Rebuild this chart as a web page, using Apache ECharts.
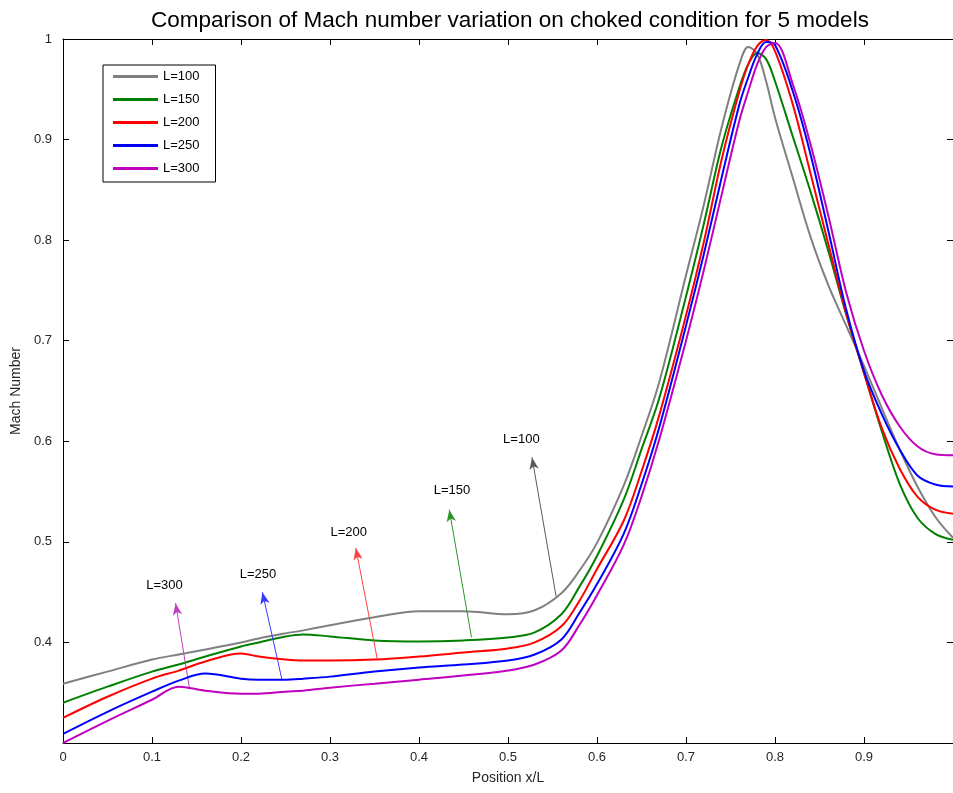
<!DOCTYPE html>
<html>
<head>
<meta charset="utf-8">
<script src="https://cdn.jsdelivr.net/npm/echarts@6/dist/echarts.min.js"></script>
<style>
  html, body { margin: 0; padding: 0; background: #fff; }
  #chart { width: 953px; height: 793px; }
</style>
</head>
<body>
<div id="chart"></div>
<script>
// Position along the duct (x/L) shared by all five models
const positions = [0, 0.05, 0.1, 0.13, 0.16, 0.2, 0.22, 0.25, 0.27, 0.3, 0.35, 0.4, 0.45, 0.5, 0.53, 0.56, 0.58,
  0.6, 0.63, 0.65, 0.67, 0.7, 0.72, 0.74, 0.76, 0.77, 0.78, 0.79, 0.8, 0.82, 0.84, 0.86, 0.88,
  0.9, 0.92, 0.94, 0.96, 0.98, 1.0];

// Mach number per model
const machL100 = [0.359, 0.371, 0.383, 0.388, 0.393, 0.400, 0.404, 0.409, 0.412, 0.417, 0.425, 0.431, 0.431, 0.428, 0.432, 0.449, 0.471,
  0.499, 0.556, 0.605, 0.659, 0.765, 0.835, 0.912, 0.975, 0.992, 0.985, 0.958, 0.922, 0.862, 0.803, 0.755, 0.715,
  0.675, 0.633, 0.592, 0.555, 0.525, 0.504];
const machL150 = [0.340, 0.356, 0.371, 0.378, 0.386, 0.396, 0.400, 0.406, 0.408, 0.406, 0.402, 0.401, 0.402, 0.405, 0.410, 0.428, 0.455,
  0.486, 0.542, 0.592, 0.643, 0.744, 0.816, 0.893, 0.952, 0.975, 0.986, 0.980, 0.958, 0.903, 0.848, 0.789, 0.726,
  0.668, 0.610, 0.558, 0.524, 0.508, 0.502];
const machL200 = [0.325, 0.346, 0.364, 0.372, 0.381, 0.389, 0.386, 0.383, 0.382, 0.382, 0.383, 0.386, 0.390, 0.394, 0.400, 0.416, 0.441,
  0.473, 0.521, 0.570, 0.626, 0.725, 0.798, 0.880, 0.948, 0.975, 0.993, 0.999, 0.988, 0.935, 0.866, 0.796, 0.727,
  0.668, 0.613, 0.573, 0.545, 0.532, 0.528];
const machL250 = [0.309, 0.331, 0.351, 0.362, 0.369, 0.364, 0.363, 0.363, 0.364, 0.366, 0.371, 0.375, 0.378, 0.382, 0.388, 0.403, 0.429,
  0.458, 0.508, 0.557, 0.614, 0.715, 0.786, 0.862, 0.935, 0.962, 0.985, 0.997, 0.994, 0.948, 0.885, 0.809, 0.731,
  0.670, 0.627, 0.592, 0.566, 0.557, 0.555];
const machL300 = [0.300, 0.322, 0.343, 0.356, 0.352, 0.349, 0.349, 0.351, 0.352, 0.355, 0.359, 0.363, 0.367, 0.372, 0.378, 0.392, 0.417,
  0.447, 0.497, 0.545, 0.602, 0.700, 0.770, 0.845, 0.919, 0.948, 0.975, 0.992, 0.996, 0.955, 0.895, 0.824, 0.748,
  0.690, 0.646, 0.615, 0.595, 0.587, 0.586];

const modelNames = ['L=100', 'L=150', 'L=200', 'L=250', 'L=300'];
const modelValues = [machL100, machL150, machL200, machL250, machL300];

// Callout arrows: tail on the curve, head near the label (data coordinates)
const arrowTails = [[0.554, 0.446], [0.459, 0.405], [0.353, 0.384], [0.246, 0.363], [0.142, 0.355]];
const arrowHeads = [[0.527, 0.584], [0.434, 0.532], [0.329, 0.494], [0.224, 0.450], [0.1265, 0.439]];
const calloutSpots = [[0.515, 0.602], [0.437, 0.551], [0.321, 0.509], [0.219, 0.468], [0.114, 0.457]];

const xTicks = [0, 0.1, 0.2, 0.3, 0.4, 0.5, 0.6, 0.7, 0.8, 0.9];
const yTicks = [0.4, 0.5, 0.6, 0.7, 0.8, 0.9, 1];

const lineColors = ['#808080', '#008000', '#ff0000', '#0000ff', '#bf00bf'];
const arrowColors = ['#5a5a5a', '#2a962a', '#ff4040', '#3a3aff', '#c040c0'];

const FONT = '"Liberation Sans", Arial, sans-serif';

const chart = echarts.init(document.getElementById('chart'), null, { renderer: 'canvas' });

const series = modelNames.map((name, i) => ({
  name: name,
  type: 'line',
  xAxisIndex: 0,
  yAxisIndex: 0,
  data: positions.map((x, k) => [x, modelValues[i][k]]),
  smooth: 0.35,
  showSymbol: false,
  symbol: 'none',
  lineStyle: { color: lineColors[i], width: 2 },
  itemStyle: { color: lineColors[i] },
  emphasis: { disabled: true },
  z: 3 + i,
  markLine: {
    silent: true,
    symbol: ['none', 'arrow'],
    symbolSize: [7, 12],
    lineStyle: { color: arrowColors[i], width: 1, type: 'solid' },
    label: { show: false },
    emphasis: { disabled: true },
    animation: false,
    data: [[{ coord: arrowTails[i] }, { coord: arrowHeads[i] }]]
  },
  markPoint: {
    silent: true,
    symbol: 'circle',
    symbolSize: 0,
    animation: false,
    label: {
      show: true,
      position: 'inside',
      formatter: name,
      color: '#000',
      fontFamily: FONT,
      fontSize: 13
    },
    data: [{ coord: calloutSpots[i] }]
  }
}));

const gridLeft = 63, gridTop = 39, gridWidth = 893, gridHeight = 704;

chart.setOption({
  animation: false,
  backgroundColor: '#fff',
  title: {
    text: 'Comparison of Mach number variation on choked condition for 5 models',
    left: 146,
    top: 4,
    textStyle: { fontFamily: FONT, fontSize: 22.5, fontWeight: 'normal', color: '#000' }
  },
  legend: {
    orient: 'vertical',
    left: 103,
    top: 65,
    padding: [4, 16, 6, 10],
    itemGap: 8,
    itemWidth: 45,
    itemHeight: 3,
    icon: 'rect',
    borderColor: '#000',
    borderWidth: 1,
    backgroundColor: '#fff',
    selectedMode: false,
    data: modelNames,
    textStyle: { fontFamily: FONT, fontSize: 13, color: '#000', lineHeight: 15 }
  },
  grid: { left: gridLeft, top: gridTop, width: gridWidth, height: gridHeight },
  xAxis: [
    {
      type: 'value', min: 0, max: 1, interval: 0.1,
      position: 'bottom',
      name: 'Position x/L',
      nameLocation: 'middle',
      nameGap: 28,
      nameTextStyle: { fontFamily: FONT, fontSize: 14, color: '#262626' },
      axisLine: { show: true, onZero: false, lineStyle: { color: '#000', width: 1 } },
      axisTick: { show: true, inside: true, length: 6, lineStyle: { color: '#000' } },
      axisLabel: {
        fontFamily: FONT, fontSize: 13, color: '#262626', margin: 8,
        showMaxLabel: false,
        formatter: v => (xTicks.some(t => Math.abs(t - v) < 1e-9) ? String(+v.toFixed(1)) : '')
      },
      splitLine: { show: false }
    },
    {
      type: 'value', min: 0, max: 1, interval: 0.1,
      position: 'top',
      axisLine: { show: true, onZero: false, lineStyle: { color: '#000', width: 1 } },
      axisTick: { show: true, inside: true, length: 6, lineStyle: { color: '#000' } },
      axisLabel: { show: false },
      splitLine: { show: false }
    }
  ],
  yAxis: [
    {
      type: 'value', min: 0.3, max: 1, interval: 0.1,
      position: 'left',
      name: 'Mach Number',
      nameLocation: 'middle',
      nameGap: 29,
      nameRotate: 90,
      nameTextStyle: { fontFamily: FONT, fontSize: 14, color: '#262626' },
      axisLine: { show: true, onZero: false, lineStyle: { color: '#000', width: 1 } },
      axisTick: { show: true, inside: true, length: 6, lineStyle: { color: '#000' } },
      axisLabel: {
        fontFamily: FONT, fontSize: 13, color: '#262626', margin: 11,
        showMinLabel: false,
        formatter: v => (yTicks.some(t => Math.abs(t - v) < 1e-9) ? String(+v.toFixed(1)) : '')
      },
      splitLine: { show: false }
    },
    {
      type: 'value', min: 0.3, max: 1, interval: 0.1,
      position: 'right',
      axisLine: { show: true, onZero: false, lineStyle: { color: '#000', width: 1 } },
      axisTick: { show: true, inside: true, length: 6, lineStyle: { color: '#000' } },
      axisLabel: { show: false },
      splitLine: { show: false }
    }
  ],
  series: series
});
</script>
</body>
</html>
